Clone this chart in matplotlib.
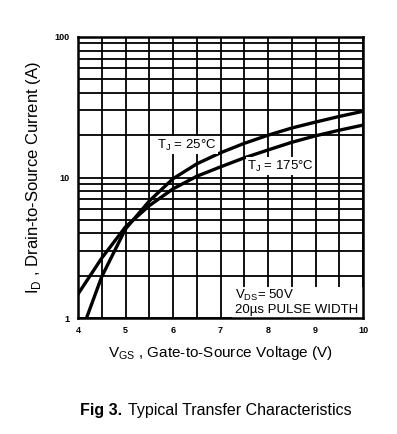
import numpy as np
import matplotlib.pyplot as plt
from matplotlib.ticker import LogLocator, NullFormatter, FixedLocator
from matplotlib.patches import Rectangle

plt.rcParams['font.family'] = ['Liberation Sans', 'DejaVu Sans']

vgs_25 = [4.18, 4.5, 5.0, 5.5, 6.0, 6.5, 7.0, 7.5, 8.0, 8.5, 9.0, 9.5, 10.0]
id_25 = [1.0, 1.97, 4.3, 6.8, 9.8, 12.5, 15.0, 17.5, 20.0, 22.5, 24.8, 27.2, 29.6]
vgs_175 = [4.0, 4.5, 5.0, 5.5, 6.0, 6.5, 7.0, 7.5, 8.0, 8.5, 9.0, 9.5, 10.0]
id_175 = [1.48, 2.67, 4.45, 6.3, 8.3, 10.2, 11.9, 13.8, 15.7, 17.8, 19.8, 21.7, 23.6]
x_ticks = [4, 5, 6, 7, 8, 9, 10]
y_ticks = [1, 10, 100]

fig = plt.figure(figsize=(3.97, 4.34), dpi=100)
ax = fig.add_axes([78/397, 1 - 318/434, 285/397, 281/434])

ax.set_yscale('log')
ax.set_xlim(4, 10)
ax.set_ylim(1, 100)

ax.xaxis.set_major_locator(FixedLocator(x_ticks))
ax.xaxis.set_minor_locator(FixedLocator(np.arange(4.5, 10, 1.0)))
ax.yaxis.set_major_locator(FixedLocator(y_ticks))
ax.yaxis.set_minor_locator(LogLocator(base=10, subs=np.arange(2, 10)))
ax.yaxis.set_minor_formatter(NullFormatter())
ax.set_yticklabels(['1', '10', '100'])
ax.grid(True, which='both', color='black', linewidth=1.3)
ax.tick_params(which='both', length=0, labelsize=6.5, pad=6)
for lab in ax.get_xticklabels() + ax.get_yticklabels():
    lab.set_fontweight('bold')
for s in ax.spines.values():
    s.set_linewidth(1.8)
    s.set_zorder(6)

ax.plot(vgs_25, id_25, color='black', linewidth=2.4, zorder=3)
ax.plot(vgs_175, id_175, color='black', linewidth=2.4, zorder=3)

ax.text(5.66, 16.9, r'T$_\mathregular{J}$ = 25°C', fontsize=9.5, ha='left', va='center',
        zorder=4, bbox=dict(facecolor='white', edgecolor='none', pad=1))
ax.text(7.56, 12.0, r'T$_\mathregular{J}$ = 175°C', fontsize=9.5, ha='left', va='center',
        zorder=4, bbox=dict(facecolor='white', edgecolor='none', pad=1))

# white box behind the test conditions
ax.add_patch(Rectangle((0.54, 0), 0.46, 0.11, transform=ax.transAxes,
                       facecolor='white', edgecolor='none', zorder=4))
ax.text(0.551, 0.082, r'V$_\mathregular{ DS}$= 50V', transform=ax.transAxes,
        fontsize=9.5, ha='left', va='center', zorder=5)
ax.text(0.551, 0.028, '20µs PULSE WIDTH', transform=ax.transAxes,
        fontsize=9.5, ha='left', va='center', zorder=5)

ax.set_xlabel(r'V$_\mathregular{GS}$ , Gate-to-Source Voltage (V)', fontsize=11, labelpad=6)
ax.set_ylabel(r'I$_\mathregular{D}$ , Drain-to-Source Current (A)', fontsize=12, labelpad=8)

fig.text(80/397, 1 - 410/434, 'Fig 3.', fontsize=11.5, fontweight='bold', va='center')
fig.text(128/397, 1 - 410/434, 'Typical Transfer Characteristics', fontsize=11.5, va='center')

fig.savefig('out.png', dpi=100)
